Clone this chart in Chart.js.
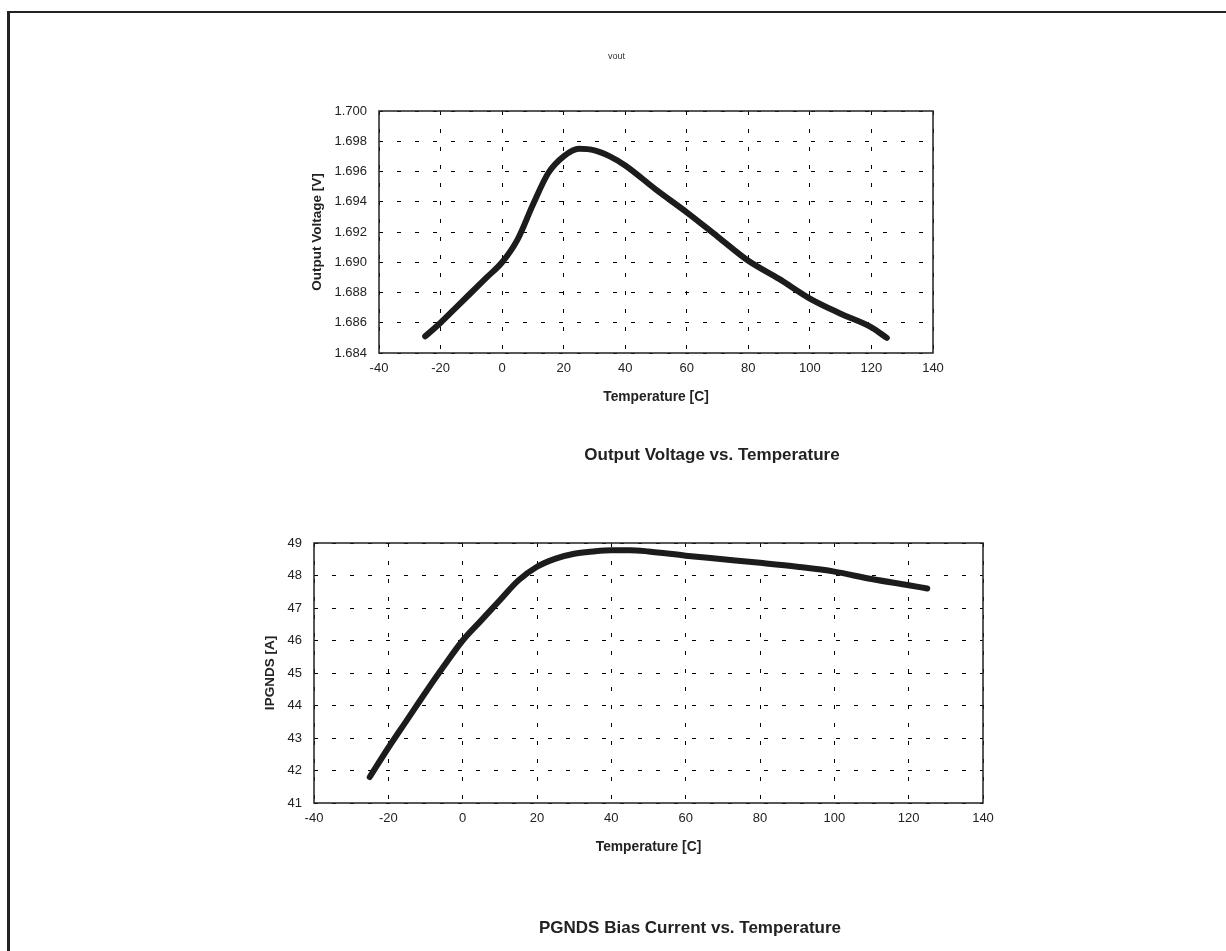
<!DOCTYPE html>
<html>
<head>
<meta charset="utf-8">
<script src="https://cdn.jsdelivr.net/npm/chart.js@4/dist/chart.umd.min.js"></script>
<style>
    body { margin: 0; background: #fff; }
    #page { position: relative; width: 1226px; height: 951px; overflow: hidden;
            font-family: "Liberation Sans", Arial, sans-serif; }
    #frame { position: absolute; left: 7px; top: 11px; width: 1240px; height: 960px;
             border-left: 3px solid #222; border-top: 2px solid #222; }
    canvas { position: absolute; left: 0; }
    #voltChart { top: 0; }
    #currChart { top: 480px; }
    .caption { position: absolute; width: 600px; text-align: center; font-size: 17px;
               font-weight: bold; line-height: 20px; color: #222; white-space: nowrap; }
    #voltCaption { left: 412px; top: 445px; }
    #currCaption { left: 390px; top: 918px; }
</style>
</head>
<body>
<div id="page">
    <canvas id="voltChart" width="1248" height="480"></canvas>
    <canvas id="currChart" width="1226" height="471"></canvas>
    <div class="caption" id="voltCaption">Output Voltage vs. Temperature</div>
    <div class="caption" id="currCaption">PGNDS Bias Current vs. Temperature</div>
    <div id="frame"></div>
</div>
<script>
// top chart: output voltage
var aTempV = [-25, -20, -15, -10, -5, 0, 5, 10, 15, 20, 25, 30, 35, 40, 50, 60, 70, 80, 90, 100, 110, 120, 125];
var aVout = [1.6851, 1.6860, 1.6870, 1.6880, 1.6890, 1.6900, 1.6915, 1.6938, 1.6959, 1.6970, 1.6975, 1.6974, 1.6970,
             1.6964, 1.6948, 1.6933, 1.6917, 1.6901, 1.6889, 1.6876, 1.6866, 1.6857, 1.6850];
var aVoltTicks = ['1.684', '1.686', '1.688', '1.690', '1.692', '1.694', '1.696', '1.698', '1.700'];

// bottom chart: PGNDS bias current
var aTempI = [-25, -20, -15, -10, -5, 0, 5, 10, 15, 20, 25, 30, 35, 40, 45, 50, 60, 70, 80, 90, 100, 110, 120, 125];
var aIpgnds = [41.80, 42.70, 43.55, 44.40, 45.22, 46.00, 46.62, 47.24, 47.85, 48.27, 48.52, 48.67, 48.74, 48.78,
               48.78, 48.74, 48.61, 48.50, 48.39, 48.27, 48.12, 47.89, 47.70, 47.60];
var aCurrTicks = ['41', '42', '43', '44', '45', '46', '47', '48', '49'];

var aTempTicks = ['-40', '-20', '0', '20', '40', '60', '80', '100', '120', '140'];

Chart.defaults.font.family = '"Liberation Sans", Arial, sans-serif';
Chart.defaults.color = '#222';

// solid box round the plot area
var plotFrame = {
    id: 'plotFrame',
    beforeDatasetsDraw: function (chart) {
        var a = chart.chartArea;
        var ctx = chart.ctx;
        ctx.save();
        ctx.strokeStyle = '#222';
        ctx.lineWidth = 1.5;
        ctx.strokeRect(a.left, a.top, a.right - a.left, a.bottom - a.top);
        ctx.restore();
    }
};

function toPoints(aX, aY) {
    var aPts = [];
    for (var i = 0; i < aX.length; i++) {
        aPts.push({ x: aX[i], y: aY[i] });
    }
    return aPts;
}

function buildChart(sId, oCfg) {
    return new Chart(document.getElementById(sId), {
        type: 'line',
        data: {
            datasets: [{
                data: toPoints(oCfg.x, oCfg.y),
                borderColor: '#1c1c1c',
                borderWidth: 6,
                borderCapStyle: 'round',
                borderJoinStyle: 'round',
                pointRadius: 0,
                cubicInterpolationMode: 'monotone'
            }]
        },
        options: {
            responsive: false,
            animation: false,
            layout: { padding: oCfg.padding },
            plugins: {
                legend: { display: false },
                tooltip: { enabled: false },
                title: oCfg.title
            },
            scales: {
                x: {
                    type: 'linear',
                    min: -40,
                    max: 140,
                    ticks: {
                        stepSize: 20,
                        padding: 8,
                        font: { size: 13 },
                        callback: function (v, i) { return aTempTicks[i]; }
                    },
                    grid: { color: '#000', lineWidth: 1, drawTicks: false },
                    border: { display: false, dash: [4, 14] },
                    title: {
                        display: true,
                        text: 'Temperature [C]',
                        font: { size: 13.8, weight: 'bold' },
                        padding: { top: 0, bottom: 7.7 }
                    },
                    afterFit: function (scale) { scale.height = 60; }
                },
                y: {
                    min: oCfg.yMin,
                    max: oCfg.yMax,
                    ticks: {
                        stepSize: oCfg.yStep,
                        padding: 12,
                        font: { size: 13 },
                        callback: function (v, i) { return oCfg.yTicks[i]; }
                    },
                    grid: { color: '#000', lineWidth: 1, drawTicks: false },
                    border: { display: false, dash: [4, 14] },
                    title: {
                        display: true,
                        text: oCfg.yTitle,
                        font: { size: 13.5, weight: 'bold' },
                        padding: { top: oCfg.yTitlePad, bottom: 0 }
                    },
                    afterFit: function (scale) { scale.width = oCfg.yWidth; }
                }
            }
        },
        plugins: [plotFrame]
    });
}

buildChart('voltChart', {
    x: aTempV,
    y: aVout,
    yMin: 1.684,
    yMax: 1.700,
    yStep: 0.002,
    yTicks: aVoltTicks,
    yTitle: 'Output Voltage [V]',
    yWidth: 79,
    yTitlePad: 8.9,
    padding: { left: 300, right: 315, top: 0, bottom: 67 },
    title: {
        display: true,
        text: 'vout',
        color: '#333',
        font: { size: 9, weight: 'normal' },
        padding: { top: 51.6, bottom: 48.6 }
    }
});

buildChart('currChart', {
    x: aTempI,
    y: aIpgnds,
    yMin: 41,
    yMax: 49,
    yStep: 1,
    yTicks: aCurrTicks,
    yTitle: 'IPGNDS [A]',
    yWidth: 64,
    yTitlePad: 11.9,
    padding: { left: 250, right: 243, top: 63, bottom: 88 },
    title: { display: false }
});
</script>
</body>
</html>
